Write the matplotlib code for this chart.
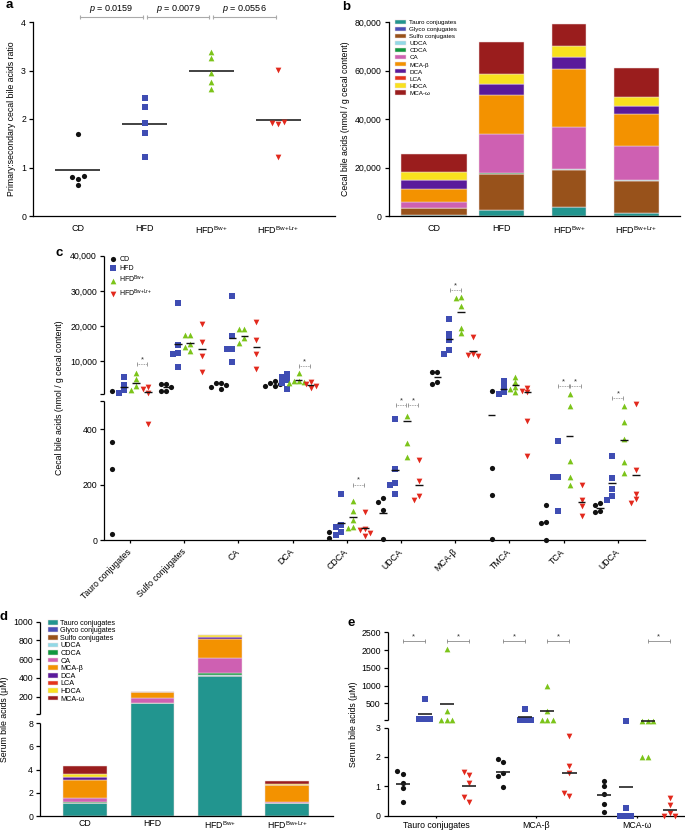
import numpy as np
import matplotlib
matplotlib.use('Agg')
import matplotlib.pyplot as plt

plt.rcParams['font.family'] = ['Liberation Sans', 'DejaVu Sans']
plt.rcParams['mathtext.fontset'] = 'custom'
plt.rcParams['mathtext.rm'] = 'Liberation Sans'
plt.rcParams['mathtext.it'] = 'Liberation Sans:italic'
plt.rcParams['font.size'] = 6.3
plt.rcParams['axes.linewidth'] = 0.9
plt.rcParams['xtick.major.width'] = 0.9
plt.rcParams['ytick.major.width'] = 0.9
plt.rcParams['xtick.major.size'] = 3
plt.rcParams['ytick.major.size'] = 3
plt.rcParams['xtick.labelsize'] = 6.3
plt.rcParams['ytick.labelsize'] = 6.3
plt.rcParams['ytick.major.pad'] = 2

W, H = 685, 832

# ---------------- data ----------------
groups = ['CD', 'HFD', r'HFD$^{\mathrm{Bw{+}}}$', r'HFD$^{\mathrm{Bw{+}Lr{+}}}$']

# a: primary:secondary cecal bile acid ratio
ratio_vals = [
    [1.70, 0.77, 0.80, 0.83, 0.63],
    [2.43, 2.24, 1.92, 1.72, 1.21],
    [3.38, 3.25, 2.95, 2.76, 2.62],
    [3.02, 1.89, 1.92, 1.94, 1.22],
]
ratio_means = [0.95, 1.90, 3.00, 1.98]
p_values = ['0.0159', '0.0079', '0.0556']

# b: stacked cecal bile acids (nmol / g cecal content)
layer_names = ['Tauro conjugates', 'Glyco conjugates', 'Sulfo conjugates', 'UDCA', 'CDCA', 'CA',
               'MCA-β', 'DCA', 'LCA', 'HDCA', 'MCA-ω']
cecal_layers = [
    [500, 2480, 3700, 1380],
    [50, 70, 50, 40],
    [2620, 14650, 15110, 13040],
    [100, 300, 390, 240],
    [80, 260, 300, 170],
    [2550, 16240, 17210, 14180],
    [5250, 16000, 23830, 12810],
    [3720, 4250, 4810, 3580],
    [80, 150, 150, 110],
    [3350, 4260, 4680, 3470],
    [7300, 13080, 8950, 12120],
]

# c: individual cecal bile acids
cecal_analytes = ['Tauro conjugates', 'Sulfo conjugates', 'CA', 'DCA', 'CDCA', 'UDCA',
                  'MCA-β', 'TMCA', 'TCA', 'UDCA']
cecal_cd = [[1560, 352, 256, 23], [3550, 3550, 2600, 1650, 1650], [3900, 3900, 3200, 2800, 2100],
            [4400, 3800, 3450, 3100, 2980], [30, 8], [150, 138, 108, 2],
            [6960, 6960, 4120, 3550], [1480, 258, 162, 2], [125, 64, 60, 0], [132, 126, 106, 102]]
cecal_hfd = [[5620, 3270, 1850, 900], [26650, 14630, 12440, 12070, 8470],
             [28550, 17280, 13490, 13490, 9710], [6390, 5620, 4690, 3750, 2040],
             [165, 53, 46, 30, 18], [435, 255, 207, 197, 166],
             [21930, 17670, 16050, 13120, 11990], [4400, 2790, 1370, 710],
             [356, 228, 226, 105], [304, 225, 185, 160, 144]]
cecal_bw = [[6590, 4880, 3070, 1850], [17470, 17470, 14910, 13980, 13010],
            [19080, 19080, 16530, 15290], [6590, 4400, 4300, 4100, 3920],
            [142, 105, 72, 48, 44], [447, 351, 300],
            [28180, 27900, 25710, 19550, 17940], [5630, 4210, 2790, 2040, 1190],
            [710, 484, 286, 228, 198], [482, 427, 364, 280, 240]]
cecal_bwlr = [[2790, 2040, 900, 417], [20600, 15570, 11500, 6960], [21250, 16050, 12070, 7900],
              [4200, 3550, 2980, 2330], [102, 40, 35, 26, 16], [288, 214, 159, 144],
              [16820, 12070, 11700, 11500], [2510, 1560, 1190, 430, 303],
              [199, 144, 123, 87], [491, 251, 165, 147, 132]]
nan = np.nan
cecal_mean_cd = [nan, 2600, nan, nan, nan, 99, 5450, 450, nan, 117]
cecal_mean_hfd = [2700, 14830, 16530, nan, 62, 252, 16250, 2040, nan, 204]
cecal_mean_bw = [3840, 15290, 17280, 4690, 84, 428, 24000, 3180, 376, 359]
cecal_mean_bwlr = [1370, 13580, 14150, 3270, 44, 200, 13010, 1190, 136, 235]
# (analyte, group 1, group 2, height)
cecal_sig = [(0, 2, 3, 9230), (3, 2, 3, 8570), (4, 2, 3, 200), (5, 1, 2, 485), (5, 2, 3, 485),
             (6, 1, 2, 30340), (8, 1, 2, 2890), (8, 2, 3, 2890), (9, 1, 2, 513)]

# d: stacked serum bile acids (uM)
serum_layers = [
    [1.12, 129, 420, 1.10],
    [0.01, 0.5, 1, 0.01],
    [0.02, 0.5, 1, 0.02],
    [0.01, 1, 5, 0.01],
    [0.02, 2, 23, 0.01],
    [0.40, 50, 166, 0.05],
    [1.50, 63, 203, 1.45],
    [0.28, 2, 20, 0.04],
    [0.03, 0.2, 1, 0.01],
    [0.20, 6, 17, 0.08],
    [0.72, 1, 2, 0.20],
]

# e: individual serum bile acids
serum_analytes = ['Tauro conjugates', 'MCA-β', 'MCA-ω']
serum_cd = [[1.41, 1.52, 1.11, 0.95, 0.46], [1.84, 1.94, 1.44, 1.36, 0.98], [1.18, 1.00, 0.72, 0.40, 0.11]]
serum_hfd = [[620, 60, 60, 60], [330, 40, 40, 40], [4.6, 0.27, 0, 0, 0]]
serum_bw = [[2020, 290, 30, 30, 30], [1000, 290, 28, 28, 28], [5, 5, 5, 2, 2]]
serum_bwlr = [[1.38, 1.49, 1.10, 0.47, 0.62], [2.72, 1.70, 1.46, 0.67, 0.76], [0.61, 0.36, 0.08, 0, 0]]
serum_mean_cd = [1.09, 1.50, 0.69]
serum_mean_hfd = [197, 121, 0.98]
serum_mean_bw = [487, 290, 3.8]
serum_mean_bwlr = [1.01, 1.46, 0.20]
serum_sig = [(0, 0, 1), (0, 2, 3), (1, 0, 1), (1, 2, 3), (2, 2, 3)]

# ---------------- styles ----------------
group_colors = ['#111111', '#3F4DB3', '#7CC41A', '#E2291D']
group_markers = ['o', 's', '^', 'v']
group_sizes = [14, 13, 17, 17]
group_offsets = [-0.33, -0.11, 0.11, 0.33]
layer_colors = ['#22958F', '#4A4FB8', '#98521B', '#92D9E6', '#10973E', '#CE60B2',
                '#F39200', '#5A1A9B', '#E5331B', '#F8E11E', '#9A1D1D']

fig = plt.figure(figsize=(W / 100, H / 100), dpi=100)


def px_axes(left, top, right, bottom):
    ax = fig.add_axes([left / W, 1 - bottom / H, (right - left) / W, (bottom - top) / H])
    ax.spines['top'].set_visible(False)
    ax.spines['right'].set_visible(False)
    return ax


def ylabel_at(ax, text, x_center_px, left_px, right_px):
    ax.set_ylabel(text)
    ax.yaxis.set_label_coords((x_center_px + 4.5 - left_px) / (right_px - left_px), 0.5)


def broken_scale(ax, brk, ratio):
    def fwd(y):
        y = np.asarray(y, dtype=float)
        return np.where(y <= brk, y, brk + (y - brk) * ratio)

    def inv(v):
        v = np.asarray(v, dtype=float)
        return np.where(v <= brk, v, brk + (v - brk) / ratio)
    ax.set_yscale('function', functions=(fwd, inv))


def split_spine(ax, segs):
    ax.spines['left'].set_visible(False)
    for lo, hi in segs:
        ax.plot([0, 0], [lo, hi], transform=ax.get_yaxis_transform(), color='k',
                lw=0.9, clip_on=False, solid_capstyle='butt')


def swarm(ax, xc, vals, step_px=5.0, size_px=4.5):
    tr = ax.transData
    ppu = tr.transform((1, 1))[0] - tr.transform((0, 1))[0]
    placed, xs = [], []
    for v in vals:
        px, py = tr.transform((xc, v))
        for k in (0, -1, 1, -2, 2, -3, 3):
            qx = px + k * step_px
            if all(abs(qx - a) >= size_px or abs(py - b) >= size_px for a, b in placed):
                break
        placed.append((qx, py))
        xs.append(xc + (qx - px) / ppu)
    return xs


def bracket(ax, x1, x2, y, ls='-', star='*'):
    ax.plot([x1, x2], [y, y], color='#8a8a8a', lw=0.6, ls=ls, marker='|', ms=2.5,
            mew=0.6, clip_on=False)
    if star:
        ax.annotate(star, xy=((x1 + x2) / 2, y), xytext=(0, 0.5), textcoords='offset points',
                    ha='center', va='bottom', fontsize=5.5, color='#333333')


# ---------------- a ----------------
ax = px_axes(33, 22, 335, 216)
ax.set_xlim(-0.67, 3.85)
ax.set_ylim(0, 4)
for i, vals in enumerate(ratio_vals):
    xs = swarm(ax, i, vals, step_px=6)
    ax.scatter(xs, vals, marker=group_markers[i], s=group_sizes[i], color=group_colors[i],
               lw=0, zorder=3, clip_on=False)
    ax.hlines(ratio_means[i], i - 0.335, i + 0.335, color='#333333', lw=1.3, zorder=2)
for i, p in enumerate(p_values):
    ax.plot([i + 0.03, i + 0.97], [4.11, 4.11], color='#aaaaaa', lw=0.8, marker='|', ms=3,
            mew=0.8, clip_on=False)
    ax.text(i + 0.5, 4.27, rf'$p$ = {p}', ha='center', va='center', fontsize=6.5)
ax.set_xticks(range(4))
ax.set_xticklabels(groups, fontsize=6.5)
ax.tick_params(axis='x', length=0, pad=6)
ax.set_yticks([0, 1, 2, 3, 4])
ylabel_at(ax, 'Primary:secondary cecal bile acids ratio', 12, 33, 335)

# ---------------- b ----------------
ax = px_axes(388.7, 22, 680, 216)
b_widths = [0.98, 0.67, 0.51, 0.67]
bottom = np.zeros(4)
for name, vals, col in zip(layer_names, cecal_layers, layer_colors):
    ax.bar(range(4), vals, width=b_widths, bottom=bottom, color=col, edgecolor='#ecdcdc',
           lw=0.35, label=name)
    bottom += np.array(vals)
ax.set_xlim(-0.68, 3.65)
ax.set_ylim(0, 80000)
ax.set_yticks(range(0, 80001, 20000))
ax.set_yticklabels([f'{v:,}' for v in range(0, 80001, 20000)])
ax.set_xticks(range(4))
ax.set_xticklabels(groups, fontsize=6.5)
ax.tick_params(axis='x', length=0, pad=6)
ylabel_at(ax, 'Cecal bile acids (nmol / g cecal content)', 345, 388.7, 680)
ax.legend(loc='upper left', bbox_to_anchor=(0.02, 1.01), frameon=False, fontsize=4.5,
          handlelength=1.9, handleheight=0.65, handletextpad=0.45, labelspacing=0.28,
          borderpad=0, borderaxespad=0)

# ---------------- c ----------------
ax = px_axes(104, 255.7, 645, 540)
broken_scale(ax, 524, 0.01269)
ax.set_ylim(0, 40000)
ax.set_xlim(-0.48, 9.5)
cecal_groups = [cecal_cd, cecal_hfd, cecal_bw, cecal_bwlr]
cecal_means = [cecal_mean_cd, cecal_mean_hfd, cecal_mean_bw, cecal_mean_bwlr]
for g in range(4):
    for j in range(len(cecal_analytes)):
        xc = j + group_offsets[g]
        vals = cecal_groups[g][j]
        xs = swarm(ax, xc, vals)
        ax.scatter(xs, vals, marker=group_markers[g], s=group_sizes[g], color=group_colors[g],
                   lw=0, zorder=3, clip_on=False, label=groups[g] if j == 0 else None)
        m = cecal_means[g][j]
        if not np.isnan(m):
            ax.hlines(m, xc - 0.07, xc + 0.07, color='#111111', lw=1.0, zorder=4)
for j, g1, g2, y in cecal_sig:
    bracket(ax, j + group_offsets[g1] + 0.01, j + group_offsets[g2] - 0.01, y, ls=(0, (1, 1)))
c_ticks = [0, 200, 400, 500, 710, 10000, 20000, 30000, 40000]
ax.set_yticks(c_ticks)
ax.set_yticklabels(['0', '200', '400', '', ''] + [f'{v:,}' for v in c_ticks[5:]])
ax.minorticks_off()
split_spine(ax, [(0, 500), (710, 40000)])
ax.set_xticks(range(len(cecal_analytes)))
ax.set_xticklabels(cecal_analytes, rotation=45, ha='right', va='center', rotation_mode='anchor')
ax.tick_params(axis='x', length=2.5, pad=5)
ylabel_at(ax, 'Cecal bile acids (nmol / g cecal content)', 60, 104, 645)
ax.legend(loc='upper left', bbox_to_anchor=(0.01, 1.0), frameon=False, fontsize=5,
          scatterpoints=1, handlelength=1.0, handletextpad=0.4, labelspacing=0.3,
          borderpad=0, borderaxespad=0)

# ---------------- d ----------------
ax = px_axes(40, 621.7, 333, 816)
broken_scale(ax, 8.75, 0.008089)
ax.set_ylim(0, 1000)
ax.set_xlim(-0.67, 3.68)
bottom = np.zeros(4)
for name, vals, col in zip(layer_names, serum_layers, layer_colors):
    ax.bar(range(4), vals, width=0.65, bottom=bottom, color=col, edgecolor='#ecdcdc',
           lw=0.35, label=name)
    bottom += np.array(vals)
d_ticks = [0, 2, 4, 6, 8, 12, 200, 400, 600, 800, 1000]
ax.set_yticks(d_ticks)
ax.set_yticklabels(['0', '2', '4', '6', '8', '', '200', '400', '600', '800', '1000'])
ax.minorticks_off()
split_spine(ax, [(0, 8), (12, 1000)])
ax.set_xticks(range(4))
ax.set_xticklabels(groups, fontsize=6.3)
ax.tick_params(axis='x', length=0, pad=2.5)
ylabel_at(ax, 'Serum bile acids (μM)', 5, 40, 333)
ax.legend(loc='upper left', bbox_to_anchor=(0.026, 1.01), frameon=False, fontsize=5.2,
          handlelength=1.4, handleheight=0.6, handletextpad=0.35, labelspacing=0.08,
          borderpad=0, borderaxespad=0)

# ---------------- e ----------------
ax = px_axes(387.7, 632.3, 685, 815.5)
broken_scale(ax, 3.23, 0.001213)
ax.set_ylim(0, 2500)
ax.set_xlim(-0.48, 2.48)
serum_groups = [serum_cd, serum_hfd, serum_bw, serum_bwlr]
serum_means = [serum_mean_cd, serum_mean_hfd, serum_mean_bw, serum_mean_bwlr]
for g in range(4):
    for j in range(len(serum_analytes)):
        xc = j + group_offsets[g]
        vals = serum_groups[g][j]
        xs = swarm(ax, xc, vals, step_px=5.5)
        ax.scatter(xs, vals, marker=group_markers[g], s=group_sizes[g], color=group_colors[g],
                   lw=0, zorder=3, clip_on=False)
        ax.hlines(serum_means[g][j], xc - 0.07, xc + 0.07, color='#222222', lw=1.2, zorder=4)
for j, g1, g2 in serum_sig:
    bracket(ax, j + group_offsets[g1], j + group_offsets[g2], 2250)
e_ticks = [0, 1, 2, 3, 20, 500, 1000, 1500, 2000, 2500]
ax.set_yticks(e_ticks)
ax.set_yticklabels(['0', '1', '2', '3', '', '500', '1000', '1500', '2000', '2500'])
ax.minorticks_off()
split_spine(ax, [(0, 3), (20, 2500)])
ax.set_xticks(range(3))
ax.set_xticklabels(serum_analytes)
ax.tick_params(axis='x', length=1.5, pad=2.5)
ylabel_at(ax, 'Serum bile acids (μM)', 353.3, 387.7, 685)

# ---------------- panel letters ----------------
for letter, x, y in [('a', 6, 5), ('b', 342, 7), ('c', 55, 253), ('d', 0, 617.5), ('e', 348, 622.5)]:
    fig.text(x / W, 1 - y / H, letter, fontsize=9.5, fontweight='bold', ha='left', va='center')

fig.savefig('out.png', dpi=100)
